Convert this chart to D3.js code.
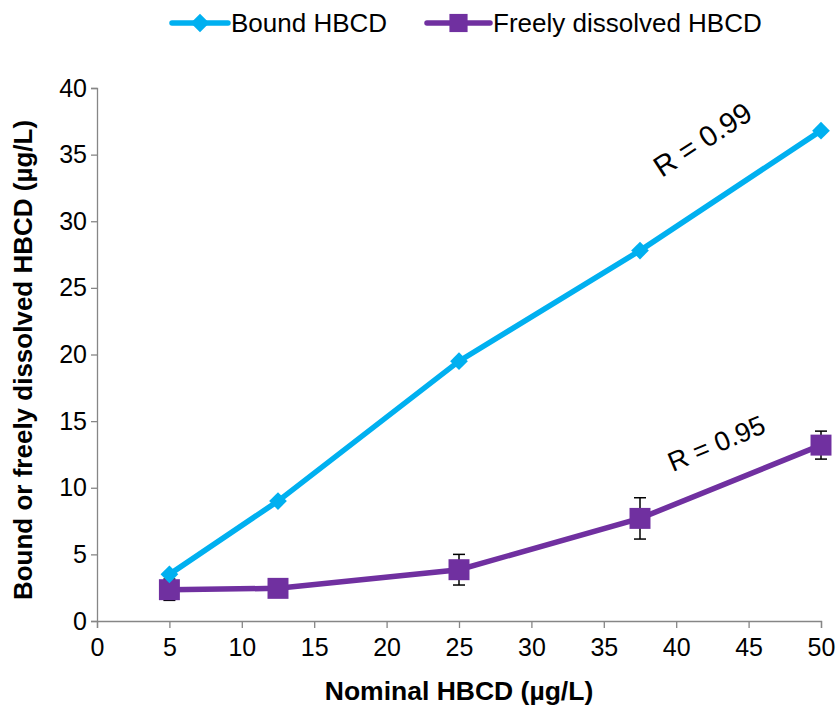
<!DOCTYPE html>
<html>
<head>
<meta charset="utf-8">
<script src="https://cdn.jsdelivr.net/npm/d3@7"></script>
<style>
  body { margin: 0; background: #fff; }
  svg { display: block; font-family: "Liberation Sans", Arial, sans-serif; }
</style>
</head>
<body>
<svg id="chart" width="837" height="708"></svg>
<script>
// Nominal concentrations (µg/L)
const nominal = [5, 12.5, 25, 37.5, 50];
// Measured concentrations (µg/L)
const bound = [3.5, 9.0, 19.5, 27.8, 36.8];
const freeDissolved = [2.35, 2.45, 3.85, 7.7, 13.2];
const freeErr = [0.8, 0.3, 1.15, 1.55, 1.05];
const xTicks = [0, 5, 10, 15, 20, 25, 30, 35, 40, 45, 50];
const yTicks = [0, 5, 10, 15, 20, 25, 30, 35, 40];
const seriesNames = ["Bound HBCD", "Freely dissolved HBCD"];
const rLabels = ["R = 0.99", "R = 0.95"];

const blue = "#00B0F0", purple = "#7030A0", axisGrey = "#868686";
const fontSize = 26;

const svg = d3.select("#chart");
const x = d3.scaleLinear().domain([0, 50]).range([97, 821]);
const y = d3.scaleLinear().domain([0, 40]).range([621, 88]);

// Axes
const xAxis = svg.append("g").attr("transform", `translate(0,${y(0)})`)
  .call(d3.axisBottom(x).tickValues(xTicks).tickSize(7).tickPadding(8).tickFormat(d3.format("d")));
const yAxis = svg.append("g").attr("transform", `translate(${x(0)},0)`)
  .call(d3.axisLeft(y).tickValues(yTicks).tickSize(6).tickPadding(4).tickFormat(d3.format("d")));
[xAxis, yAxis].forEach(g => {
  g.select(".domain").attr("stroke", axisGrey).attr("stroke-width", 1.3);
  g.selectAll(".tick line").attr("stroke", axisGrey).attr("stroke-width", 1.3);
  g.selectAll(".tick text").attr("fill", "#000").attr("font-size", fontSize - 1)
    .attr("font-family", "'Liberation Sans', Arial, sans-serif");
});
xAxis.selectAll(".tick text").attr("dy", "0.78em");

// Axis titles
svg.append("text").attr("x", 459).attr("y", 700).attr("text-anchor", "middle")
  .attr("font-size", fontSize + 0.5).attr("font-weight", "bold").text("Nominal HBCD (µg/L)");
svg.append("text").attr("transform", "translate(32,360) rotate(-90)").attr("text-anchor", "middle")
  .attr("font-size", fontSize).attr("font-weight", "bold").text("Bound or freely dissolved HBCD (µg/L)");

const line = d3.line().x(d => x(d[0])).y(d => y(d[1]));
const boundPts = nominal.map((n, i) => [n, bound[i]]);
const freePts = nominal.map((n, i) => [n, freeDissolved[i]]);

// Error bars for freely dissolved HBCD
const eb = svg.append("g").attr("stroke", "#000").attr("stroke-width", 1.5);
freePts.forEach((p, i) => {
  const cx = x(p[0]), y1 = y(p[1] + freeErr[i]), y2 = y(p[1] - freeErr[i]);
  eb.append("line").attr("x1", cx).attr("x2", cx).attr("y1", y1).attr("y2", y2);
  eb.append("line").attr("x1", cx - 6).attr("x2", cx + 6).attr("y1", y1).attr("y2", y1);
  eb.append("line").attr("x1", cx - 6).attr("x2", cx + 6).attr("y1", y2).attr("y2", y2);
});

// Lines
svg.append("path").datum(freePts).attr("d", line).attr("fill", "none")
  .attr("stroke", purple).attr("stroke-width", 5.5);
svg.append("path").datum(boundPts).attr("d", line).attr("fill", "none")
  .attr("stroke", blue).attr("stroke-width", 5.5);

// Markers
const diamond = d3.symbol().type(d3.symbolDiamond2).size(200);
const square = d3.symbol().type(d3.symbolSquare).size(440);
svg.append("g").selectAll("path").data(freePts).join("path")
  .attr("transform", d => `translate(${x(d[0])},${y(d[1])})`)
  .attr("d", square).attr("fill", purple);
svg.append("g").selectAll("path").data(boundPts).join("path")
  .attr("transform", d => `translate(${x(d[0])},${y(d[1])})`)
  .attr("d", diamond).attr("fill", blue);

// Correlation labels
svg.append("text").attr("transform", "translate(708,148) rotate(-33)").attr("text-anchor", "middle")
  .attr("font-size", 29).text(rLabels[0]);
svg.append("text").attr("transform", "translate(720,452) rotate(-23)").attr("text-anchor", "middle")
  .attr("font-size", 27).text(rLabels[1]);

// Legend
const legend = svg.append("g");
const items = [
  { name: seriesNames[0], color: blue, sym: d3.symbol().type(d3.symbolDiamond2).size(220), x0: 172, x1: 228, tx: 231 },
  { name: seriesNames[1], color: purple, sym: d3.symbol().type(d3.symbolSquare).size(330), x0: 427, x1: 490, tx: 493 }
];
items.forEach(it => {
  legend.append("line").attr("x1", it.x0).attr("x2", it.x1).attr("y1", 23).attr("y2", 23)
    .attr("stroke", it.color).attr("stroke-width", 5.5).attr("stroke-linecap", "round");
  legend.append("path").attr("transform", `translate(${(it.x0 + it.x1) / 2},23)`).attr("d", it.sym).attr("fill", it.color);
  legend.append("text").attr("x", it.tx).attr("y", 32).attr("font-size", fontSize).text(it.name);
});
</script>
</body>
</html>
